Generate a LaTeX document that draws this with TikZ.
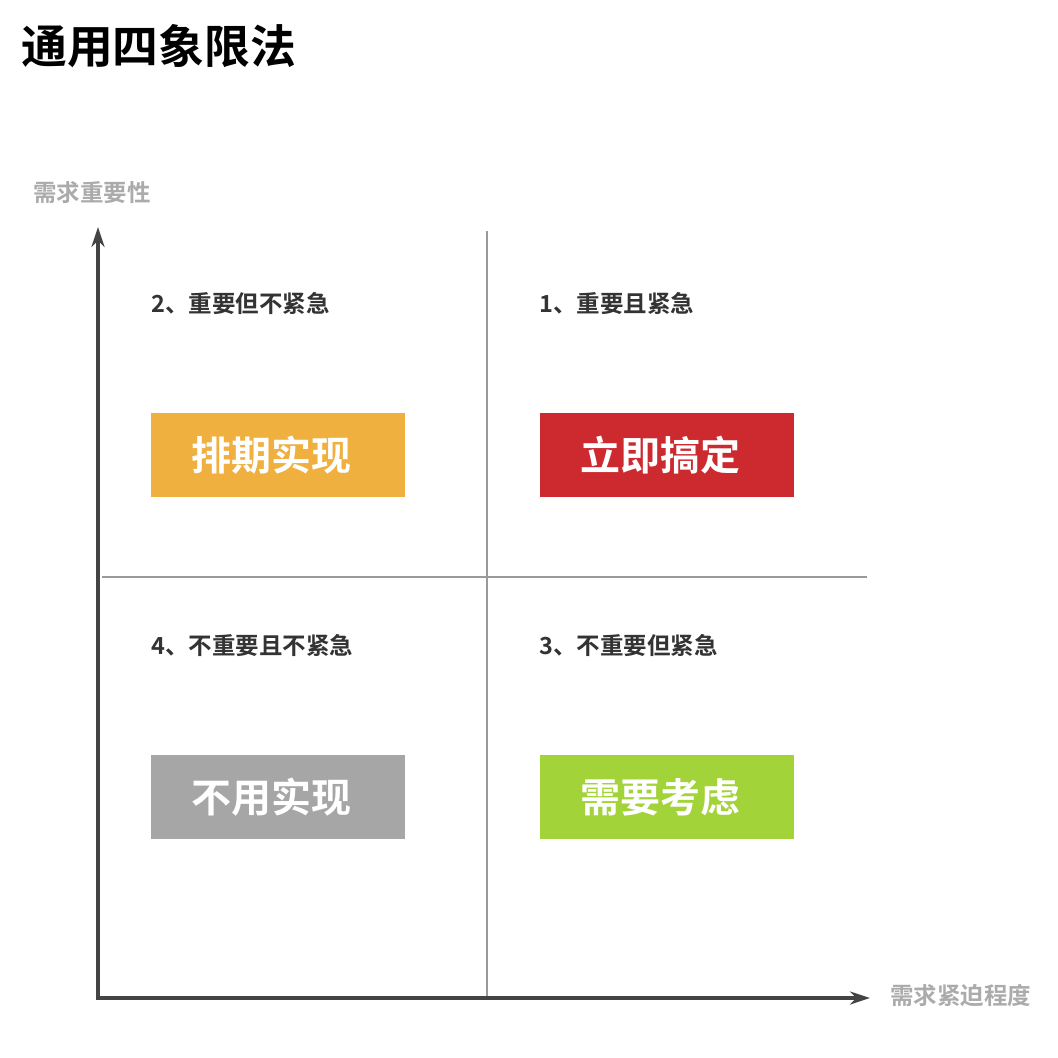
\documentclass[tikz,border=0pt]{standalone}
\usepackage{fontspec}
\newfontfamily\cjk{Noto Sans CJK SC}
\newfontfamily\cjkb{Noto Sans CJK SC Bold}
\usetikzlibrary{arrows.meta}
\definecolor{axisc}{HTML}{444444}
\definecolor{divc}{HTML}{9A9A9A}
\definecolor{axlab}{HTML}{ABABAB}
\definecolor{qlab}{HTML}{333333}
\definecolor{cOrange}{HTML}{F0B040}
\definecolor{cRed}{HTML}{CD2A30}
\definecolor{cGray}{HTML}{A6A6A6}
\definecolor{cGreen}{HTML}{A2D339}
\tikzset{
  axisline/.style={draw=axisc, line width=3.4pt, -{Stealth[length=20pt,width=13pt]}},
  divline/.style={draw=divc, line width=2pt},
  axislabel/.style={text=axlab, font=\cjkb\fontsize{23.5}{27}\selectfont, inner sep=0pt},
  qlabel/.style={text=qlab, font=\cjkb\fontsize{23.5}{27}\selectfont, inner sep=0pt, anchor=west},
  qbox/.style={minimum width=254pt, minimum height=84pt, inner sep=0pt, anchor=north west, text=white, font=\cjkb\fontsize{40}{44}\selectfont},
}
\begin{document}
\begin{tikzpicture}[x=1pt,y=-1pt]
\useasboundingbox[fill=white] (0,0) rectangle (1058,1058);
\node[anchor=west, inner sep=0pt, font=\cjkb\fontsize{45.8}{50}\selectfont] (title) at (21,46) {通用四象限法};
\node[axislabel, anchor=west] (ylab) at (33,193) {需求重要性};
\node[axislabel, anchor=west] (xlab) at (890,996) {需求紧迫程度};
\coordinate (origin) at (98,998);
\coordinate (ytip) at (98,227);
\coordinate (xtip) at (870,998);
\coordinate (vtop) at (487,231);
\coordinate (vbot) at (487,998);
\coordinate (hl) at (102,577);
\coordinate (hr) at (867,577);
\draw[divline] (vtop) -- (vbot);
\draw[divline] (hl) -- (hr);
\draw[axisline] ([yshift=-1.7pt]origin) -- (ytip);
\draw[axisline] ([xshift=-1.7pt]origin) -- (xtip);
\node[qlabel] (q2) at (151,304) {2、重要但不紧急};
\node[qlabel] (q1) at (539,304) {1、重要且紧急};
\node[qlabel] (q4) at (151,646) {4、不重要且不紧急};
\node[qlabel] (q3) at (539,646) {3、不重要但紧急};
\node[qbox, fill=cOrange, text width=254pt, align=left] (b2) at (151,413) {\hspace*{40pt}排期实现};
\node[qbox, fill=cRed, text width=254pt, align=left] (b1) at (540,413) {\hspace*{40pt}立即搞定};
\node[qbox, fill=cGray, text width=254pt, align=left] (b4) at (151,755) {\hspace*{40pt}不用实现};
\node[qbox, fill=cGreen, text width=254pt, align=left] (b3) at (540,755) {\hspace*{40pt}需要考虑};
\end{tikzpicture}
\end{document}
